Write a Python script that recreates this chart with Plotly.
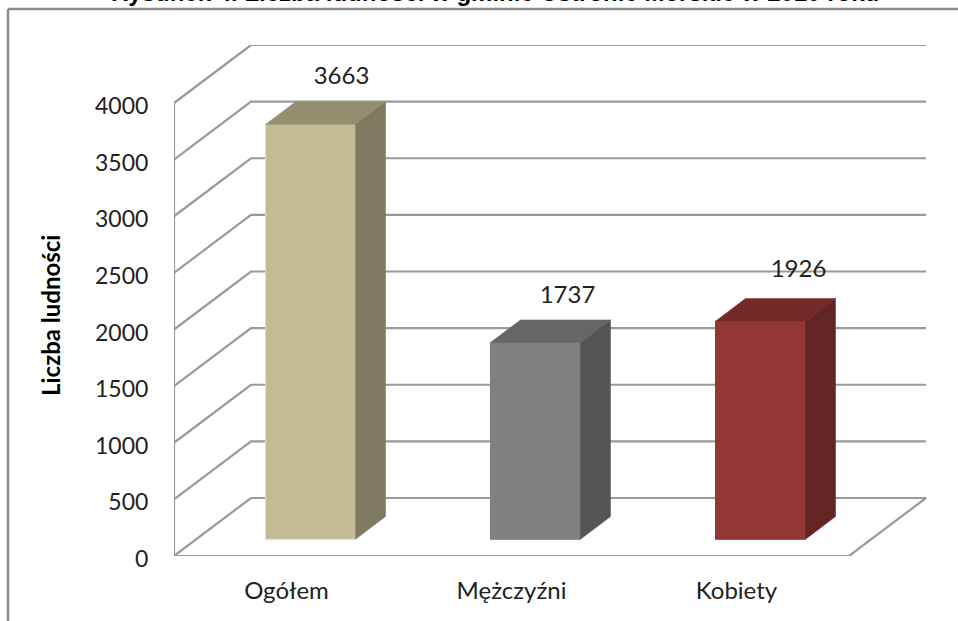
import plotly.graph_objects as go

categories = ["Ogółem", "Mężczyźni", "Kobiety"]
values = [3663, 1737, 1926]
y_ticks = [0, 500, 1000, 1500, 2000, 2500, 3000, 3500, 4000]
label_nudge_px = [(31, 24), (32, 23), (38, 27)]

front_colors = ["#C3BB94", "#808080", "#943634"]
top_colors = ["#968F6F", "#666666", "#732A28"]
side_colors = ["#7F7A5F", "#555555", "#632523"]
GRID = "#9A9A9A"

W, H = 958, 621
X0, X1, Y0, Y1 = 174, 930, 556, 45   # plot area pixels
PX_X = 225.0                          # px per category
PX_Y = 453 / 4000                     # px per value unit
def dx(p): return p / PX_X
def dy(p): return p / PX_Y

x_lo = -0.5
x_hi = x_lo + dx(X1 - X0)
y_hi = dy(Y0 - Y1)
wall_dx, wall_dy = dx(77), dy(58)
floor_right = x_lo + 3

fig = go.Figure()

def line(xs, ys, width=2.2, color=GRID):
    fig.add_trace(go.Scatter(x=xs, y=ys, mode="lines", line=dict(color=color, width=width),
                             hoverinfo="skip", showlegend=False, cliponaxis=False))

for v in y_ticks:
    if v == 0:
        line([x_lo, x_lo + wall_dx, floor_right + wall_dx, floor_right, x_lo],
             [0, wall_dy, wall_dy, 0, 0])
    else:
        line([x_lo, x_lo + wall_dx, floor_right + wall_dx],
             [v, v + wall_dy, v + wall_dy])
line([x_lo, x_lo], [0, 4000])
for i in range(4):
    line([x_lo + i, x_lo + i], [0, -dy(8)], width=2)
for v in y_ticks:
    line([x_lo, x_lo - dx(9)], [v, v], width=2)

bar_w, bar_dx, bar_dy = dx(90), dx(30), dy(22.7)
base_y = dy(16.7)
lefts = [i + dx(-21) for i in range(3)]
for i, v in enumerate(values):
    l = lefts[i]
    r = l + bar_w
    b, t = base_y, base_y + v
    fig.add_trace(go.Scatter(x=[l, r, r, l, l], y=[b, b, t, t, b], fill="toself", mode="lines",
                             fillcolor=front_colors[i], line=dict(color="#E4E0CC" if i == 0 else front_colors[i], width=1),
                             hoverinfo="skip", showlegend=False))
    fig.add_trace(go.Scatter(x=[l, r, r + bar_dx, l + bar_dx, l], y=[t, t, t + bar_dy, t + bar_dy, t],
                             fill="toself", mode="lines", fillcolor=top_colors[i],
                             line=dict(color=top_colors[i], width=0.5), hoverinfo="skip", showlegend=False))
    fig.add_trace(go.Scatter(x=[r, r + bar_dx, r + bar_dx, r, r], y=[b, b + bar_dy, t + bar_dy, t, b],
                             fill="toself", mode="lines", fillcolor=side_colors[i],
                             line=dict(color=side_colors[i], width=0.5), hoverinfo="skip", showlegend=False))
    nx, ny = label_nudge_px[i]
    fig.add_trace(go.Scatter(x=[l + bar_w / 2 + dx(nx)], y=[t + bar_dy + dy(ny)], mode="text",
                             text=[str(v)], textposition="middle center",
                             textfont=dict(family="Lato", size=24, color="#222222"),
                             hoverinfo="skip", showlegend=False, cliponaxis=False))

fig.update_layout(
    width=W, height=H, paper_bgcolor="white", plot_bgcolor="white", showlegend=False,
    margin=dict(l=X0, r=W - X1, t=Y1, b=H - Y0),
    xaxis=dict(range=[x_lo, x_hi], tickvals=[0, 1, 2], ticktext=categories, showgrid=False,
               zeroline=False, showline=False, ticks="outside", ticklen=13, tickcolor="rgba(0,0,0,0)",
               tickfont=dict(family="Lato", size=24, color="#222222")),
    yaxis=dict(range=[0, y_hi], tickvals=y_ticks, showgrid=False, zeroline=False, showline=False,
               ticks="outside", ticklen=20, tickcolor="rgba(0,0,0,0)", ticklabelshift=3,
               tickfont=dict(family="Lato", size=23, color="#222222")),
    annotations=[
        dict(text="<b>Liczba ludności</b>", xref="paper", yref="paper", x=(50 - X0) / (X1 - X0),
             y=(Y0 - 316) / (Y0 - Y1), xanchor="center", yanchor="middle", textangle=-90, showarrow=False,
             font=dict(family="Lato", size=24, color="black")),
        dict(text="<b>Rysunek 4. Liczba ludności w gminie Ustronie Morskie w 2010 roku</b>", xref="paper", yref="paper",
             x=(495 - X0) / (X1 - X0), y=(Y0 - 8) / (Y0 - Y1), yanchor="bottom", showarrow=False,
             font=dict(family="Liberation Sans", size=24, color="black")),
    ],
    shapes=[
        dict(type="line", xref="paper", yref="paper", x0=(8 - X0) / (X1 - X0), x1=1 + 28 / (X1 - X0),
             y0=(Y0 - 9) / (Y0 - Y1), y1=(Y0 - 9) / (Y0 - Y1), line=dict(color="#8C8C8C", width=2.5)),
        dict(type="line", xref="paper", yref="paper", x0=(8 - X0) / (X1 - X0), x1=(8 - X0) / (X1 - X0),
             y0=(Y0 - 9) / (Y0 - Y1), y1=(Y0 - 621) / (Y0 - Y1), line=dict(color="#8C8C8C", width=2.5)),
    ],
)
fig.write_html("out.html", config=dict(displayModeBar=False),
               post_script="document.body.style.margin='0';document.documentElement.style.overflow='hidden';")
